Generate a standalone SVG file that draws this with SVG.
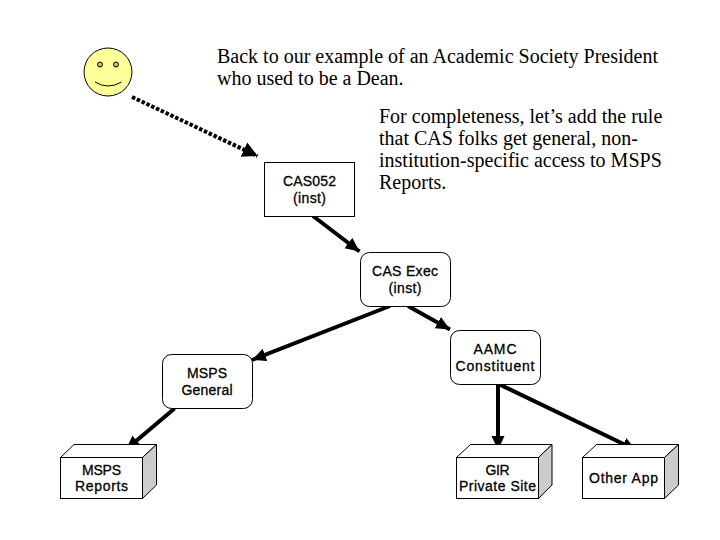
<svg xmlns="http://www.w3.org/2000/svg" width="720" height="540" viewBox="0 0 720 540">
<style>
.s{font-family:"Liberation Serif","Times New Roman",serif;font-size:20px;fill:#000}
.n{font-family:"Liberation Sans",Arial,sans-serif;font-size:14px;fill:#000;text-anchor:middle;stroke:#000;stroke-width:.3}
.b{fill:#fff;stroke:#000;stroke-width:1}
.d{fill:#ccc;stroke:#000;stroke-width:1}
.c{fill:none;stroke:#000;stroke-width:4}
.e{fill:#ffff99;stroke:#000;stroke-width:1}
</style>
<defs>
<marker id="a" markerUnits="userSpaceOnUse" markerWidth="16" markerHeight="14" refX="14" refY="6.500" orient="auto"><path d="M0 0L14 6.500L0 13Z" fill="#000"/></marker>
<marker id="h" markerUnits="userSpaceOnUse" markerWidth="18" markerHeight="18" refX="15" refY="8" orient="auto"><path d="M0 0L15 8L0 16Z" fill="#000"/></marker>
</defs>
<rect width="720" height="540" fill="#fff"/>
<g id="connectors">
<path class="c" d="M132 97L257.500 156" stroke-dasharray="3.500 1.800" stroke-width="4.500" marker-end="url(#h)"/>
<path class="c" d="M313 216L359.500 251.500" marker-end="url(#a)"/>
<path class="c" d="M390 306L252 360" marker-end="url(#a)"/>
<path class="c" d="M408 306L450 329.500" marker-end="url(#a)"/>
<path class="c" d="M174.500 408.500L126 449.500" marker-end="url(#a)"/>
<path class="c" d="M498 384V450" marker-end="url(#a)"/>
<path class="c" d="M498.500 384L636 450" marker-end="url(#a)"/>
</g>
<g id="smiley">
<circle class="e" cx="108" cy="72" r="24"/>
<circle cx="100" cy="64.500" r="2.500" fill="#c8c070" stroke="#000"/>
<circle cx="116" cy="64.500" r="2.500" fill="#c8c070" stroke="#000"/>
<path d="M95 82Q108 90 121.500 82" fill="none" stroke="#000"/>
</g>
<g id="cas052"><rect class="b" x="264.500" y="162.500" width="90" height="54"/><text class="n" x="309.500" y="186" textLength="53">CAS052</text><text class="n" x="309.500" y="203" textLength="33">(inst)</text></g>
<g id="cas-exec"><rect class="b" x="360.500" y="252.500" width="90" height="54" rx="9"/><text class="n" x="405" y="276" textLength="66">CAS Exec</text><text class="n" x="405" y="293" textLength="33">(inst)</text></g>
<g id="msps-general"><rect class="b" x="162.500" y="354.500" width="90" height="54" rx="9"/><text class="n" x="207" y="378" textLength="40">MSPS</text><text class="n" x="207" y="395" textLength="51">General</text></g>
<g id="aamc"><rect class="b" x="450.500" y="330.500" width="90" height="54" rx="9"/><text class="n" x="495" y="354" textLength="43">AAMC</text><text class="n" x="495" y="371" textLength="79">Constituent</text></g>
<g id="msps-reports"><path class="b" d="M60.500 457.500L74 444.500H156.500L142.500 457.500Z"/><path class="d" d="M142.500 457.500L156.500 444.500V485L142.500 498.500Z"/><rect class="b" x="60.500" y="457.500" width="82" height="41"/><text class="n" x="101.500" y="475" textLength="39">MSPS</text><text class="n" x="101.500" y="491" textLength="53">Reports</text></g>
<g id="gir"><path class="b" d="M456.500 457.500L470.500 444.500H552L538.500 457.500Z"/><path class="d" d="M538.500 457.500L552 444.500V485L538.500 498.500Z"/><rect class="b" x="456.500" y="457.500" width="82" height="41"/><text class="n" x="497.500" y="475" textLength="24">GIR</text><text class="n" x="497.500" y="491" textLength="77">Private Site</text></g>
<g id="other-app"><path class="b" d="M582.500 457.500L596.500 444.500H678.500L664.500 457.500Z"/><path class="d" d="M664.500 457.500L678.500 444.500V485L664.500 498.500Z"/><rect class="b" x="582.500" y="457.500" width="82" height="41"/><text class="n" x="623.500" y="483" textLength="69">Other App</text></g>
<g id="captions">
<text class="s" x="217" y="63">Back to our example of an Academic Society President</text>
<text class="s" x="217" y="85">who used to be a Dean.</text>
<text class="s" x="379" y="123">For completeness, let’s add the rule</text>
<text class="s" x="379" y="145">that CAS folks get general, non-</text>
<text class="s" x="379" y="167">institution-specific access to MSPS</text>
<text class="s" x="379" y="189">Reports.</text>
</g>
</svg>
